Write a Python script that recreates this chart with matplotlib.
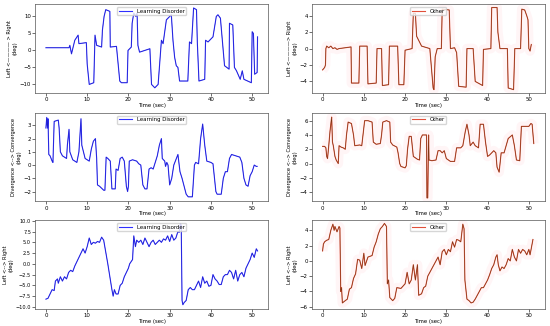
import matplotlib.pyplot as plt
import numpy as np

# row 1 left: Learning Disorder, horizontal
t_ld1 = [0, 5.6, 5.8, 6.2, 7.0, 7.8, 8.0, 9.8, 10.0, 10.5, 11.6, 11.9, 12.3, 13.5, 13.7, 14.1, 14.5,
         15.5, 15.6, 17.1, 17.9, 18.3, 19.7, 19.9, 20.7, 20.9, 21.3, 21.8, 22.1, 22.3, 22.7, 25.2,
         25.6, 26.4, 27.2, 28.0, 28.4, 29.2, 30.0, 30.4, 30.8, 31.2, 31.6, 32.0, 32.4, 34.4, 34.8,
         35.3, 35.8, 36.5, 36.7, 37.1, 38.5, 38.7, 39.3, 40.5, 41.3, 41.7, 42.3, 43.3, 44.4, 44.5,
         45.3, 45.7, 46.2, 47.1, 47.6, 48.0, 49.8, 50.0, 50.3, 50.6, 51.2, 51.3]
y_ld1 = [0.8, 0.8, 1.5, -1.0, 3.0, 4.5, 2.0, 2.3, -4.0, -10.0, -9.5, 4.5, 1.5, 1.0, 6.0, 10.0, 12.0,
         11.5, 1.0, 1.2, -9.0, -9.5, -9.5, 0.0, 1.0, 8.0, 11.0, 10.0, 11.0, 1.5, -0.5, 0.5,
         -10.0, -11.0, -10.0, 3.0, 2.0, 9.0, 10.0, 10.5, 3.0, -2.0, -4.5, -5.0, -9.0, -9.0, 2.5,
         2.0, 12.5, 12.0, 2.5, -9.0, -8.5, 3.0, 2.5, 4.0, 10.0, 10.5, 9.5, -4.5, -5.5, 8.0,
         7.5, -5.0, -6.0, -8.5, -6.0, -8.5, -9.5, 5.5, 5.0, -7.0, -6.5, 4.0]

# row 1 right: Other, horizontal
t_ot1 = [0, 0.5, 0.7, 0.8, 1.0, 1.5, 2.0, 2.5, 3.0, 3.5, 4.0, 5.5, 6.9, 7.0, 8.8, 9.0, 10.8, 11.0,
         13.0, 13.2, 14.3, 14.5, 16.0, 16.2, 18.2, 18.5, 19.7, 20.0, 21.7, 22.0, 22.5, 22.8, 23.3,
         24.0, 26.0, 26.5, 26.8, 27.0, 27.3, 27.8, 28.8, 29.0, 30.7, 31.0, 32.0, 32.5, 33.0, 34.8,
         35.0, 36.5, 37.0, 38.8, 39.0, 40.8, 41.0, 42.3, 42.5, 43.0, 44.8, 45.0, 46.3, 46.6, 48.0,
         48.3, 49.0, 49.5, 49.8, 50.0, 50.3, 50.6]
y_ot1 = [-2.6, -2.3, -2.0, 0.0, 0.3, 0.1, 0.3, 0.0, 0.1, -0.1, 0.0, 0.1, 0.2, -4.2, -4.2, 0.3, 0.3, -4.3,
         -4.2, 0.0, 0.0, -4.5, -4.4, 0.3, 0.3, -4.4, -4.4, -0.2, 0.0, 4.3, 4.3, 1.5, 1.0,
         0.3, 0.0, -3.0, -4.8, -5.0, -1.0, 0.0, 0.0, 4.8, 4.7, 0.0, 0.1, -0.5, -4.6, -4.7,
         0.0, 0.0, -4.0, -4.5, -0.1, 0.0, 5.0, 5.0, 2.0, 0.0, 0.0, -4.8, -5.0, 0.0, 0.0,
         4.8, 4.7, 4.0, 3.5, 0.0, -0.3, 0.5]

# row 2 left: Learning Disorder, vergence
t_ld2 = [0.0, 0.2, 0.4, 0.5, 0.7, 1.0, 1.5, 1.7, 2.0, 3.0, 3.2, 3.5, 4.0, 4.5, 5.0, 5.2, 5.6, 5.8,
         6.5, 7.0, 7.5, 8.0, 8.5, 8.7, 9.5, 10.0, 10.5, 11.0, 11.5, 12.0, 12.3, 12.5, 13.0, 14.0,
         14.3, 14.6, 15.0, 15.6, 16.0, 16.8, 17.0, 17.5, 18.0, 18.5, 19.0, 19.5, 19.8, 20.0, 20.2,
         21.0, 22.0, 22.5, 23.0, 23.5, 24.0, 24.5, 25.0, 25.5, 26.0, 27.0, 27.5, 28.0, 28.2, 28.8,
         29.0, 29.3, 29.6, 30.0, 30.5, 31.0, 32.0, 32.5, 33.0, 34.0, 34.5, 35.5, 36.0, 36.3, 37.0,
         37.5, 38.0, 38.5, 39.0, 40.0, 40.5, 41.2, 41.5, 42.5, 43.0, 43.5, 44.0, 44.5, 45.0, 46.0,
         47.0, 47.5, 48.0, 48.5, 49.0, 49.5, 50.0, 50.5, 51.0, 51.2]
y_ld2 = [2.8, 3.6, 2.8, 3.5, 0.8, 0.7, 0.3, 0.2, 3.3, 3.4, 2.8, 1.0, 0.7, 0.6, 0.5, 1.5, 2.7, 1.0,
         0.4, 0.3, 0.2, 1.0, 3.5, 1.5, 0.5, 0.4, 0.3, 1.2, 1.8, 2.0, 0.5, -1.5, -1.6, -1.9,
         -1.9, 0.6, 0.5, 0.3, -1.8, -1.8, -0.3, -0.4, 0.5, 0.6, 0.3, -1.6, -2.0, -1.6, 0.3,
         0.4, 0.3, 0.1, 0.0, -1.5, -1.8, -1.8, -0.3, -0.2, -0.3, 0.7, 1.5, 2.0, 0.5, 0.3,
         -0.1, 0.2, 0.0, -1.5, -1.0, 0.0, 0.8, -0.5, -1.0, -2.2, -2.4, -2.4, 0.0, 0.2, 0.1,
         2.0, 3.1, 1.5, 0.3, 0.2, 0.1, -2.0, -2.2, -2.2, -1.0, -0.5, -0.5, 0.5, 0.8, 0.7,
         0.6, 0.2, -1.0, -1.5, -1.6, -0.8, -0.5, 0.0, -0.1, -0.1]

# row 2 right: Other, vergence
t_ot2 = [0, 0.5, 0.8, 1.0, 1.2, 1.5, 1.8, 2.0, 2.2, 2.4, 2.6, 3.0, 3.3, 3.8, 4.0, 4.5, 5.0, 5.5,
         5.8, 6.2, 7.0, 7.5, 7.8, 9.0, 9.5, 9.8, 10.2, 11.0, 12.0, 12.3, 13.0, 14.0, 14.3, 14.6,
         15.5, 16.3, 16.5, 17.0, 18.0, 18.3, 18.7, 19.0, 20.0, 20.3, 20.6, 21.0, 21.5, 22.0, 23.0,
         23.5, 23.8, 24.2, 25.2, 25.3, 25.5, 25.7, 25.8, 26.5, 27.5, 28.0, 28.5, 29.0, 29.5, 30.0,
         31.0, 32.0, 32.5, 33.5, 34.0, 34.6, 35.0, 35.5, 35.8, 36.5, 37.0, 37.8, 38.2, 39.0, 39.5,
         40.0, 40.5, 41.0, 41.5, 42.0, 42.3, 42.8, 43.3, 44.0, 44.5, 45.0, 46.0, 46.5, 47.0, 47.8,
         48.2, 50.0, 50.5, 50.8, 51.2]
y_ot2 = [2.4, 2.4, 2.2, 1.0, 0.7, 2.5, 4.5, 5.5, 6.5, 3.0, 2.5, 1.0, 0.5, 0.0, 2.5, 2.3, 2.2, 2.0,
         4.0, 5.8, 5.6, 4.0, 2.5, 2.6, 2.5, 4.0, 6.0, 6.0, 5.8, 3.0, 2.7, 2.8, 4.0, 5.8,
         6.0, 5.8, 3.0, 2.6, 2.3, 1.5, 0.0, -0.4, -0.6, -0.3, 2.0, 3.8, 3.8, 1.0, 0.6,
         0.5, 3.5, 4.0, 4.0, -4.8, -4.8, 4.0, 0.5, 0.4, 0.5, 1.8, 1.8, 1.5, 1.8, 0.7,
         0.3, 0.3, 2.2, 2.2, 2.5, 4.5, 5.5, 4.0, 2.5, 3.0, 2.5, 2.2, 5.5, 5.5, 3.0,
         1.0, 1.2, 1.5, 1.8, 1.5, -0.5, -1.2, 1.5, 1.5, 2.5, 3.5, 4.0, 2.5, 0.5, 0.4,
         5.2, 5.2, 5.6, 5.5, 2.8]

# row 3 left: Learning Disorder, horizontal (pursuit)
t_ld3 = [0, 0.5, 1.0, 1.5, 2.0, 2.3, 2.8, 3.0, 3.5, 4.0, 4.5, 5.0, 5.5, 6.0, 6.5, 7.0, 7.5, 8.0,
         8.5, 9.0, 9.5, 10.0, 10.5, 11.0, 11.5, 12.0, 12.5, 13.0, 13.5, 14.0, 15.0, 16.0, 16.3,
         16.6, 17.0, 17.5, 18.0, 18.5, 19.0, 19.5, 20.0, 20.3, 21.0, 21.3, 21.7, 22.0, 22.5, 23.0,
         23.5, 24.0, 24.5, 25.0, 25.5, 26.0, 26.5, 27.0, 27.5, 28.0, 28.5, 29.0, 29.5, 30.0, 30.5,
         31.0, 31.5, 32.0, 32.3, 32.6, 32.8, 33.0, 33.2, 33.5, 34.0, 34.5, 35.0, 35.5, 36.0, 36.5,
         37.0, 37.5, 38.0, 38.5, 39.0, 39.5, 40.0, 40.5, 41.0, 41.5, 42.0, 42.5, 43.0, 43.5, 44.0,
         44.5, 45.0, 45.5, 46.0, 46.5, 47.0, 47.5, 48.0, 48.5, 49.0, 49.5, 50.0, 50.5, 51.0, 51.3]
y_ld3 = [-8.2, -8.0, -7.0, -6.0, -6.2, -4.0, -3.5, -4.5, -3.0, -4.0, -3.0, -3.5, -2.0, -1.5, -1.8, -0.5, 0.5, 1.5,
         2.5, 3.5, 2.5, 4.0, 6.0, 4.5, 5.0, 4.8, 5.2, 5.0, 6.2, 5.5, 0.0, -6.0, -7.5,
         -6.0, -7.0, -7.0, -5.0, -4.5, -3.0, -2.0, -1.0, 0.0, 1.0, 6.5, 4.0, 5.5, 5.0, 5.5,
         4.5, 6.0, 5.0, 4.0, 5.0, 5.5, 4.5, 5.0, 5.5, 5.0, 5.8, 5.5, 6.5, 5.2, 6.8,
         5.5, 6.0, 7.5, 7.3, 9.3, 9.0, -8.5, -9.5, -9.0, -8.5, -6.0, -5.5, -6.0, -6.0, -5.0,
         -4.0, -5.5, -3.0, -4.5, -4.0, -5.2, -5.0, -2.5, -3.5, -4.0, -4.8, -4.8, -3.0, -2.5, -2.5,
         -1.5, -2.0, -3.5, -1.5, -4.0, -2.5, -2.0, -3.0, -1.0, 0.0, 1.0, 2.5, 1.5, 3.5, 3.0]

# row 3 right: Other, horizontal (pursuit)
t_ot3 = [0, 0.2, 0.5, 1.0, 1.5, 2.0, 2.5, 2.8, 3.0, 3.5, 4.0, 4.2, 4.4, 4.6, 4.8, 5.5, 6.0, 6.5,
         7.0, 7.5, 8.0, 8.5, 9.0, 9.5, 10.0, 10.3, 11.0, 12.0, 12.5, 13.0, 13.5, 14.0, 14.5, 15.0,
         15.5, 15.7, 16.0, 16.3, 17.0, 17.5, 18.0, 19.0, 19.5, 20.0, 20.5, 21.0, 21.5, 22.0, 22.5,
         23.0, 23.3, 24.0, 24.5, 25.0, 25.5, 26.0, 26.5, 27.0, 27.5, 28.0, 28.5, 29.0, 29.5, 30.0,
         30.5, 31.0, 31.5, 32.0, 32.5, 33.0, 33.5, 34.0, 34.3, 34.5, 35.0, 35.5, 36.0, 36.5, 37.0,
         37.5, 38.0, 38.5, 39.0, 39.5, 40.0, 40.5, 41.0, 41.5, 42.0, 42.3, 42.6, 43.0, 43.5, 44.0,
         44.5, 45.0, 45.5, 46.0, 46.5, 47.0, 47.5, 48.0, 48.5, 49.0, 49.5, 50.0, 50.3, 51.0]
y_ot3 = [1.3, 2.2, 2.5, 2.7, 2.8, 4.0, 4.8, 4.0, 4.5, 3.8, 4.5, 4.3, -4.0, -3.5, -5.5, -5.2, -5.0, -3.7,
         -3.5, -2.3, -1.7, 0.2, 0.1, -1.0, 1.0, -0.6, 0.5, 0.7, 1.8, 2.5, 3.5, 4.2, 4.5, 4.9,
         4.5, -3.0, -2.5, -4.8, -5.2, -4.9, -3.5, -3.6, -3.3, -3.0, -1.5, -3.0, -2.5, -0.5, -2.5,
         -0.5, -4.5, -4.3, -3.5, -3.3, -2.0, -1.5, -1.0, -0.5, 0.0, 0.5, -0.5, 1.2, 1.5, 0.8,
         1.5, 1.2, 2.5, 1.8, 2.8, 2.7, 2.5, 4.8, 4.2, -2.5, -5.0, -5.2, -5.5, -5.4, -5.0,
         -4.5, -4.0, -3.5, -3.5, -3.0, -2.5, -1.8, -1.0, -0.5, 0.5, 0.8, -0.5, -1.3, -0.8, -1.0,
         -0.5, 0.3, 0.0, 1.5, 0.5, 0.0, 1.5, 1.0, 1.5, 1.3, 0.8, 1.5, 0.8, 2.8]

ylab_h = 'Left <———— > Right\n(deg)'
ylab_v = 'Divergence <--> Convergence\n(deg)'
ylab_p = 'Left <--> Right\n(deg)'

panels = [
    (t_ld1, y_ld1, 'ld', ylab_h, [-10, -5, 0, 5, 10], (-12.5, 13.6)),
    (t_ot1, y_ot1, 'ot', 'Left <————> Right\n(deg)', [-4, -2, 0, 2, 4], (-5.4, 5.4)),
    (t_ld2, y_ld2, 'ld', ylab_v, [-2, -1, 0, 1, 2, 3], (-2.75, 3.95)),
    (t_ot2, y_ot2, 'ot', ylab_v, [-4, -2, 0, 2, 4, 6], (-5.3, 7.1)),
    (t_ld3, y_ld3, 'ld', ylab_p, [-10, -7.5, -5, -2.5, 0, 2.5, 5, 7.5, 10], (-10.5, 10.1)),
    (t_ot3, y_ot3, 'ot', ylab_p, [-6, -4, -2, 0, 2, 4], (-6.3, 5.3)),
]

fig = plt.figure(figsize=(5.5, 3.26), dpi=100)
lefts = [0.064, 0.567]
bottoms = [0.715, 0.382, 0.052]
w, h = 0.423, 0.272

fs = 3.9
for i, (t, y, kind, ylab, yt, yl) in enumerate(panels):
    r, c = divmod(i, 2)
    ax = fig.add_axes([lefts[c], bottoms[r], w, h])
    if kind == 'ld':
        ax.plot(t, y, color='#3030ff', lw=0.8, label='Learning Disorder')
        ax.plot(t, y, color='#10108a', lw=0.3, alpha=0.6)
    else:
        ax.plot(t, y, color='#ff9fb0', lw=7, alpha=0.1, solid_capstyle='butt')
        ax.plot(t, y, color='#e0503a', lw=0.8, label='Other')
        ax.plot(t, y, color='#3a2a00', lw=0.35, alpha=0.7)
    ax.set_xlim(-2.6, 53.8)
    ax.set_ylim(*yl)
    ax.set_xticks([0, 10, 20, 30, 40, 50])
    ax.set_yticks(yt)
    ax.tick_params(labelsize=fs, length=2, width=0.4, pad=1.0)
    if i == 4:
        ax.tick_params(axis='y', labelsize=3.6)
    for s in ax.spines.values():
        s.set_linewidth(0.5)
        s.set_color('#555555')
    ax.set_xlabel('Time (sec)', fontsize=fs, labelpad=0.5)
    ax.set_ylabel(ylab, fontsize=3.7, labelpad=1.5, linespacing=1.1)
    if i == 4:
        ax.yaxis.set_label_coords(-0.094, 0.5)
    ax.legend(loc='upper center', fontsize=fs, frameon=True, handlelength=2.5,
              borderpad=0.3, framealpha=0.8, edgecolor='#cccccc', fancybox=True)

fig.savefig('out.png', dpi=100)
